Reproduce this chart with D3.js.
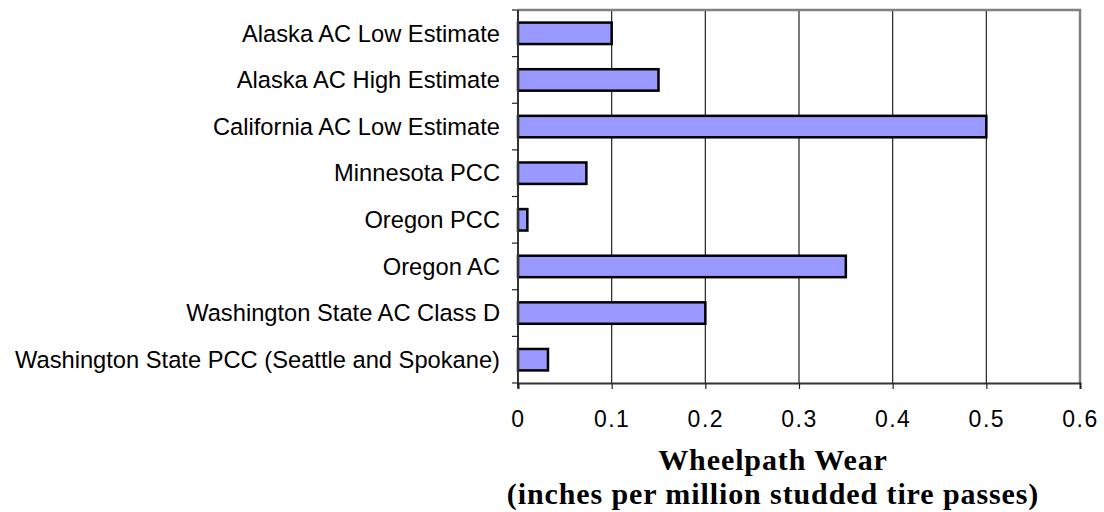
<!DOCTYPE html>
<html>
<head>
<meta charset="utf-8">
<script src="https://cdn.jsdelivr.net/npm/d3@7"></script>
<style>
  body { margin: 0; background: #fff; }
</style>
</head>
<body>
<div id="chart"></div>
<script>
// data
var categories = [
    "Alaska AC Low Estimate",
    "Alaska AC High Estimate",
    "California AC Low Estimate",
    "Minnesota PCC",
    "Oregon PCC",
    "Oregon AC",
    "Washington State AC Class D",
    "Washington State PCC (Seattle and Spokane)"
];
var wear = [0.1, 0.15, 0.5, 0.073, 0.01, 0.35, 0.2, 0.032];
var xTicks = [0, 0.1, 0.2, 0.3, 0.4, 0.5, 0.6];
var titleLines = ["Wheelpath Wear", "(inches per million studded tire passes)"];

var attrs = {
    svgWidth: 1104,
    svgHeight: 512,
    marginTop: 10,
    marginLeft: 518,
    marginRight: 24,
    marginBottom: 129,
    barFill: '#9999ff',
    labelFont: '"Liberation Sans", Arial, sans-serif',
    titleFont: '"Liberation Serif", "Times New Roman", serif'
};

var calc = {};
calc.chartWidth = attrs.svgWidth - attrs.marginLeft - attrs.marginRight;
calc.chartHeight = attrs.svgHeight - attrs.marginTop - attrs.marginBottom;

var svg = d3.select('#chart').append('svg')
    .attr('width', attrs.svgWidth)
    .attr('height', attrs.svgHeight);

var chart = svg.append('g')
    .attr('transform', 'translate(' + attrs.marginLeft + ',' + attrs.marginTop + ')');

//################ SCALES ################
var x = d3.scaleLinear().domain([0, 0.6]).range([0, calc.chartWidth]);
var y = d3.scaleBand().domain(categories).range([0, calc.chartHeight])
    .paddingInner(0.54).paddingOuter(0.27);

// gridlines
chart.selectAll('.grid').data(xTicks.slice(1, -1)).enter().append('line')
    .attr('class', 'grid')
    .attr('x1', d => x(d)).attr('x2', d => x(d))
    .attr('y1', 0).attr('y2', calc.chartHeight)
    .attr('stroke', '#222').attr('stroke-width', 1.2);

// plot frame top / right (gray)
chart.append('path')
    .attr('d', 'M0,0H' + calc.chartWidth + 'V' + calc.chartHeight)
    .attr('fill', 'none').attr('stroke', '#808080').attr('stroke-width', 2.5);

// bars
chart.selectAll('.bar').data(categories).enter().append('rect')
    .attr('class', 'bar')
    .attr('x', 0)
    .attr('y', d => y(d))
    .attr('width', (d, i) => x(wear[i]))
    .attr('height', y.bandwidth())
    .attr('fill', attrs.barFill)
    .attr('stroke', '#000')
    .attr('stroke-width', 2.5);

// y axis (category boundaries as ticks)
var yBounds = d3.range(categories.length + 1).map(i => i * calc.chartHeight / categories.length);
chart.append('line')
    .attr('x1', 0).attr('x2', 0).attr('y1', 0).attr('y2', calc.chartHeight + 5)
    .attr('stroke', '#333').attr('stroke-width', 2);
chart.selectAll('.ytick').data(yBounds).enter().append('line')
    .attr('x1', -6).attr('x2', 0)
    .attr('y1', d => d).attr('y2', d => d)
    .attr('stroke', '#222').attr('stroke-width', 1.2);

chart.selectAll('.ylabel').data(categories).enter().append('text')
    .attr('x', -18)
    .attr('y', d => y(d) + y.bandwidth() / 2)
    .attr('dy', '0.35em')
    .attr('text-anchor', 'end')
    .attr('font-family', attrs.labelFont)
    .attr('font-size', 23.7)
    .attr('fill', '#000')
    .text(d => d);

// x axis
var xAxis = d3.axisBottom(x).tickValues(xTicks).tickSize(6).tickPadding(22)
    .tickFormat(d => d === 0 ? '0' : d3.format('.1f')(d));
var gx = chart.append('g')
    .attr('transform', 'translate(0,' + calc.chartHeight + ')')
    .call(xAxis);
gx.select('.domain').attr('stroke', '#333').attr('stroke-width', 2);
gx.selectAll('.tick line').attr('stroke', '#222').attr('stroke-width', 1.2);
gx.selectAll('.tick text')
    .attr('font-family', attrs.labelFont)
    .attr('font-size', 23)
    .attr('letter-spacing', 1.5)
    .attr('fill', '#000');

// axis title
var title = svg.append('text')
    .attr('text-anchor', 'middle')
    .attr('font-family', attrs.titleFont)
    .attr('font-weight', 'bold')
    .attr('font-size', 30)
    .attr('letter-spacing', 0.9)
    .attr('fill', '#000');
title.selectAll('tspan').data(titleLines).enter().append('tspan')
    .attr('x', 773)
    .attr('y', (d, i) => 470 + i * 34)
    .text(d => d);
</script>
</body>
</html>
